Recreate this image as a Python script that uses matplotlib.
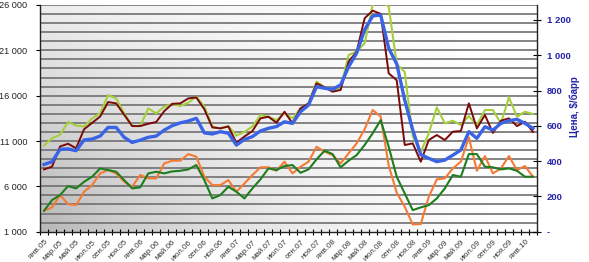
import numpy as np
import matplotlib
matplotlib.use("Agg")
import matplotlib.pyplot as plt
from matplotlib.ticker import FixedLocator

plt.rcParams['font.family'] = ['Liberation Sans', 'DejaVu Sans']

# ---- data ----
month_names = ["янв", "фев", "мар", "апр", "май", "июн",
               "июл", "авг", "сен", "окт", "ноя", "дек"]
years = [5, 6, 7, 8, 9, 10]
months = [f"{month_names[m]}.{y:02d}" for y in years for m in range(12)][:62]

maroon = [7870, 8170, 10400, 10700, 10200, 12300, 13000, 13700, 15300, 15150,
          13900, 12650, 12650, 12900, 13100, 14300, 15100, 15150, 15700, 15800,
          14500, 12500, 12400, 12600, 10800, 11500, 12100, 13500, 13680, 13020,
          14230, 12950, 14600, 15150, 17360, 16920, 16440, 16630, 19750, 20860,
          24540, 25380, 25020, 18470, 17700, 10560, 10740, 8720, 11110, 11660,
          11110, 12030, 12100, 15150, 12390, 13870, 11900, 13240, 13500, 12650,
          13130, 12000]

yellowgreen = [10500, 11300, 11700, 13100, 12700, 12600, 13500, 14050, 16070, 15700,
               14050, 12650, 12650, 14600, 14050, 14790, 15080, 14860, 15230, 15890,
               14800, 12580, 12390, 12650, 11600, 12000, 12600, 13870, 13680, 13310,
               14050, 13500, 14600, 15150, 17550, 16920, 16630, 16810, 20490, 20860,
               21780, 26000, 26380, 25830, 19500, 18600, 11500, 9800, 11850, 14710,
               12950, 13240, 12760, 13750, 12760, 14420, 14420, 12950, 15820, 13680,
               14230, 13980]

orange = [3310, 3680, 5040, 4040, 3930, 5400, 6140, 7430, 7800, 7430,
          6510, 5960, 7250, 6880, 6880, 8530, 8830, 8830, 9560, 9270,
          7060, 6140, 6140, 6690, 5410, 6320, 7250, 8100, 8100, 7720,
          8720, 7430, 8170, 8720, 10370, 9820, 9450, 8530, 9640, 10740,
          12300, 14420, 13700, 8300, 5300, 3750, 1800, 1840, 4850, 6770,
          6880, 7980, 8720, 11400, 7720, 9340, 7430, 7980, 9340, 7800,
          8240, 7060]

darkgreen = [3310, 4490, 5040, 6030, 5775, 6510, 7060, 7980, 7800, 7610,
             6690, 5775, 5890, 7430, 7610, 7430, 7650, 7720, 7870, 8350,
             6690, 4670, 5040, 5960, 5410, 4670, 5775, 6770, 7980, 7800,
             8240, 8350, 7500, 7870, 8980, 9930, 9560, 8100, 8830, 9450,
             10560, 11850, 13300, 10370, 7060, 5220, 3380, 3680, 3930, 4670,
             5775, 7250, 7060, 9560, 9560, 8170, 8100, 7870, 7980, 7720,
             7060, 7060]

# price, right axis ($/барр)
price = [381, 397, 467, 469, 459, 520, 525, 542, 591, 591,
         535, 506, 519, 535, 542, 576, 601, 617, 627, 643,
         560, 554, 567, 558, 491, 523, 539, 571, 586, 596,
         623, 614, 680, 718, 822, 813, 807, 832, 935, 1012,
         1144, 1223, 1228, 1040, 951, 746, 576, 437, 416, 397,
         406, 434, 463, 567, 529, 595, 576, 614, 629, 637,
         614, 586]

left_ticks = [1000, 6000, 11000, 16000, 21000, 26000]
left_labels = ["1 000", "6 000", "11 000", "16 000", "21 000", "26 000"]
right_ticks = [0, 200, 400, 600, 800, 1000, 1200]
right_labels = ["-", "200", "400", "600", "800", "1 000", "1 200"]

# ---- figure ----
fig = plt.figure(figsize=(5.89, 2.62), dpi=100)
ax = fig.add_axes([40/589, 1-231.7/262, (537-40)/589, (231.7-5)/262])

# gradient background
nx, ny = 200, 100
xn = np.linspace(0, 1, nx)[None, :]
yn = np.linspace(0, 1, ny)[:, None]  # 0 top -> 1 bottom
g = 1 - 0.28 * (1 - xn) ** 1.8 * (0.25 + 0.75 * yn)
img = np.dstack([g, g, g])
ax.imshow(img, extent=[0, 1, 0, 1], transform=ax.transAxes, aspect='auto',
          zorder=0, origin='upper')

x = np.arange(len(months))
ax.set_xlim(-0.5, len(months) - 0.5)
ax.set_ylim(1000, 26000)

for v in range(2000, 26001, 1000):
    ax.axhline(v, color='#707070', lw=1.2, zorder=1)

ax.plot(x, yellowgreen, color='#a6cf3e', lw=1.5, zorder=3)
ax.plot(x, maroon, color='#7a0a0a', lw=1.4, zorder=3)
ax.plot(x, orange, color='#f47b36', lw=1.5, zorder=3)
ax.plot(x, darkgreen, color='#1e7d1e', lw=1.5, zorder=3)

ax2 = ax.twinx()
ax2.set_ylim(0, 1285)
ax2.plot(x, price, color='#3a64e6', lw=2.4, zorder=4)

# left axis
ax.set_yticks(left_ticks)
ax.set_yticklabels(left_labels, fontsize=6.6, color='#222222')
ax.tick_params(axis='y', direction='out', length=3, pad=6, width=0.8)

# x axis
ax.set_xticks(x[::2])
ax.set_xticklabels(months[::2], rotation=45, ha='right', rotation_mode='anchor',
                   fontsize=5.8, color='#333333')
ax.tick_params(axis='x', which='major', length=0, pad=5)
ax.xaxis.set_minor_locator(FixedLocator(np.arange(-0.5, len(months), 1.0)))
ax.tick_params(axis='x', which='minor', direction='inout', length=5, width=0.8)

# right axis
ax2.set_yticks(right_ticks)
ax2.set_yticklabels(right_labels, fontsize=6.8, color='#2424a8', fontweight='bold')
ax2.tick_params(axis='y', direction='inout', length=6, pad=4, width=0.8)
ax2.set_ylabel("Цена, $/барр", color='#2424a8', fontsize=7, fontweight='bold')
ax2.yaxis.set_label_coords(1.065, 0.55)

for a in (ax, ax2):
    a.spines['top'].set_visible(False)
    for s in ('left', 'right', 'bottom'):
        a.spines[s].set_linewidth(1.0)
        a.spines[s].set_color('#222222')
ax.spines['right'].set_visible(False)
ax2.spines['left'].set_visible(False)
ax2.spines['bottom'].set_visible(False)

fig.savefig("out.png", dpi=100)
